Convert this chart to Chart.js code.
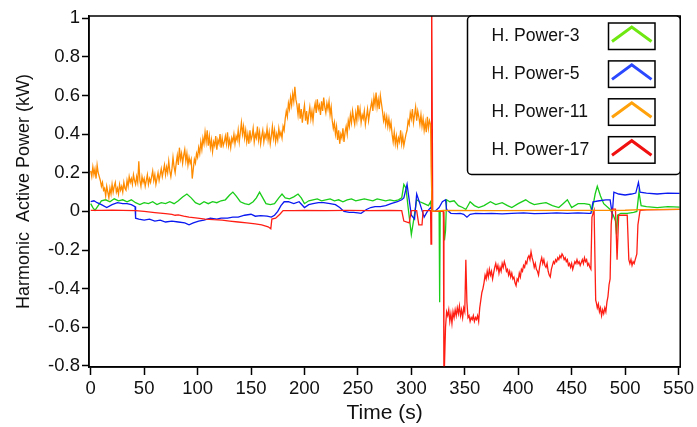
<!DOCTYPE html>
<html lang="en">
<head>
<meta charset="UTF-8">
<title>Harmonic Active Power</title>
<script src="https://cdn.jsdelivr.net/npm/chart.js@4.4.1/dist/chart.umd.min.js"></script>
<style>
  body { margin: 0; background: #fff; }
  #wrap { position: relative; width: 697px; height: 427px; }
</style>
</head>
<body>
<div id="wrap"><canvas id="chart"></canvas></div>
<script>
// axis ticks
const timeTicks = [0, 50, 100, 150, 200, 250, 300, 350, 400, 450, 500, 550];
const powerTicks = [-0.8, -0.6, -0.4, -0.2, 0, 0.2, 0.4, 0.6, 0.8, 1];

const seriesNames = ['H. Power-3', 'H. Power-5', 'H. Power-11', 'H. Power-17'];

// H. Power-3 (green)
const h3Time = [0, 2, 4, 7, 10, 14, 18, 22, 26, 30, 34, 38, 42, 46, 50, 54, 58, 62, 66, 70, 74, 78, 82, 86, 90, 94, 98,
  102, 106, 110, 114, 118, 122, 126, 130, 133, 136, 140, 144, 148, 152, 155, 158, 161, 164, 168, 172, 176, 179, 182, 186,
  190, 194, 197, 200, 204, 208, 212, 216, 220, 224, 228, 232, 236, 240, 244, 248, 252, 256, 260, 264, 268, 272, 276, 280,
  284, 288, 291, 293, 295, 297, 300, 302, 305, 308, 312, 316, 318, 319, 322, 326, 326.5, 327, 330, 331, 332, 333, 336,
  340, 344, 348, 351, 355, 359, 363, 368, 374, 379, 385, 390, 394, 400, 407, 411, 415, 420, 426, 432, 438, 442, 446, 450,
  456, 462, 467, 469, 472, 474, 477, 480, 484, 486, 489, 491, 492, 493, 496, 502, 508, 511, 513, 515, 520, 530, 540, 551];
const h3Power = [0.04, 0.02, 0.005, 0.03, 0.055, 0.06, 0.05, 0.065, 0.055, 0.06, 0.05, 0.06, 0.045, 0.035, 0.045, 0.04,
  0.05, 0.035, 0.045, 0.04, 0.05, 0.04, 0.055, 0.075, 0.09, 0.07, 0.045, 0.035, 0.05, 0.04, 0.05, 0.045, 0.055, 0.06,
  0.085, 0.10, 0.08, 0.05, 0.04, 0.035, 0.05, 0.07, 0.10, 0.07, 0.04, 0.035, 0.04, 0.07, 0.09, 0.07, 0.065, 0.075, 0.09,
  0.07, 0.04, 0.055, 0.06, 0.065, 0.055, 0.06, 0.065, 0.055, 0.06, 0.05, 0.06, 0.065, 0.055, 0.06, 0.065, 0.06, 0.055,
  0.065, 0.06, 0.055, 0.06, 0.055, 0.06, 0.07, 0.14, 0.12, 0.02, -0.12, -0.05, 0.06, 0.05, 0.04, 0.03, 0.05, 0.0, 0.0,
  0.0, -0.47, 0.0, 0.0, -0.15, -0.1, 0.06, 0.05, 0.055, 0.03, 0.02, 0.01, 0.05, 0.03, 0.02, 0.03, 0.05, 0.035, 0.045,
  0.03, 0.02, 0.04, 0.06, 0.045, 0.035, 0.04, 0.045, 0.03, 0.02, 0.04, 0.06, 0.02, 0.04, 0.04, 0.035, 0.0, 0.09, 0.13,
  0.08, 0.04, 0.02, 0.01, -0.02, -0.05, -0.12, -0.02, -0.01, -0.01, -0.005, 0.0, 0.1, 0.03, 0.025, 0.02, 0.025, 0.022];

// H. Power-5 (blue)
const h5Time = [0, 3, 6, 10, 15, 20, 25, 30, 34, 38, 41.5, 42, 45, 50, 55, 60, 65, 70, 76, 82, 88, 92, 96, 101, 106, 112,
  118, 122, 128, 133, 138, 144, 150, 154, 159, 165, 169, 172, 175, 178, 181, 185, 190, 195, 200, 204, 208, 213, 218, 224,
  229, 233, 237, 242, 246, 250, 253, 258, 262, 266, 271, 276, 281, 287, 291, 293, 296, 298, 300, 303, 305, 308, 312, 315,
  318, 320, 322, 326, 329, 332, 333, 337, 342, 346, 349, 352, 355, 360, 368, 375, 385, 394, 405, 415, 426, 436, 446, 456,
  466, 468, 470, 476, 482, 486, 488, 489.5, 494, 500, 506, 510, 512.5, 514, 520, 530, 540, 551];
const h5Power = [0.05, 0.055, 0.045, 0.035, 0.02, 0.035, 0.045, 0.04, 0.04, 0.035, 0.025, -0.035, -0.04, -0.045, -0.04,
  -0.05, -0.045, -0.055, -0.05, -0.055, -0.06, -0.07, -0.06, -0.05, -0.045, -0.035, -0.04, -0.035, -0.035, -0.03, -0.03,
  -0.02, -0.015, -0.025, -0.022, -0.025, -0.03, -0.02, 0.0, 0.03, 0.05, 0.05, 0.04, 0.05, 0.02, 0.035, 0.04, 0.045, 0.045,
  0.04, 0.035, 0.02, 0.0, -0.005, -0.005, -0.008, -0.01, 0.01, 0.02, 0.025, 0.025, 0.03, 0.04, 0.05, 0.06, 0.07, 0.14,
  0.06, -0.02, -0.04, 0.09, 0.04, -0.03, 0.0, 0.02, 0.0, 0.0, 0.02, 0.05, 0.06, 0.01, -0.01, -0.012, -0.01, -0.015, -0.03,
  -0.015, -0.01, -0.012, -0.01, -0.013, -0.01, -0.008, -0.012, -0.01, -0.008, -0.01, -0.008, -0.01, -0.01, 0.05, 0.055,
  0.06, 0.06, -0.015, 0.1, 0.09, 0.085, 0.09, 0.095, 0.15, 0.1, 0.095, 0.09, 0.095, 0.093];

// H. Power-11 (orange), one reading per second up to the spike, then the flat tail
const h11Time = [0, 1, 2, 3, 4, 5, 6, 7, 8, 9, 10, 11, 12, 13, 14, 15, 16, 17, 18, 19, 20, 21, 22, 23, 24, 25, 26, 27, 28,
  29, 30, 31, 32, 33, 34, 35, 36, 37, 38, 39, 40, 41, 42, 43, 44, 45, 46, 47, 48, 49, 50, 51, 52, 53, 54, 55, 56, 57, 58,
  59, 60, 61, 62, 63, 64, 65, 66, 67, 68, 69, 70, 71, 72, 73, 74, 75, 76, 77, 78, 79, 80, 81, 82, 83, 84, 85, 86, 87, 88,
  89, 90, 91, 92, 93, 94, 95, 96, 97, 98, 99, 100, 101, 102, 103, 104, 105, 106, 107, 108, 109, 110, 111, 112, 113, 114,
  115, 116, 117, 118, 119, 120, 121, 122, 123, 124, 125, 126, 127, 128, 129, 130, 131, 132, 133, 134, 135, 136, 137, 138,
  139, 140, 141, 142, 143, 144, 145, 146, 147, 148, 149, 150, 151, 152, 153, 154, 155, 156, 157, 158, 159, 160, 161, 162,
  163, 164, 165, 166, 167, 168, 169, 170, 171, 172, 173, 174, 175, 176, 177, 178, 179, 180, 181, 182, 183, 184, 185, 186,
  187, 188, 189, 190, 191, 192, 193, 194, 195, 196, 197, 198, 199, 200, 201, 202, 203, 204, 205, 206, 207, 208, 209, 210,
  211, 212, 213, 214, 215, 216, 217, 218, 219, 220, 221, 222, 223, 224, 225, 226, 227, 228, 229, 230, 231, 232, 233, 234,
  235, 236, 237, 238, 239, 240, 241, 242, 243, 244, 245, 246, 247, 248, 249, 250, 251, 252, 253, 254, 255, 256, 257, 258,
  259, 260, 261, 262, 263, 264, 265, 266, 267, 268, 269, 270, 271, 272, 273, 274, 275, 276, 277, 278, 279, 280, 281, 282,
  283, 284, 285, 286, 287, 288, 289, 290, 291, 292, 293, 294, 295, 296, 297, 298, 299, 300, 301, 302, 303, 304, 305, 306,
  307, 308, 309, 310, 311, 312, 313, 314, 315, 316, 317, 318, 318.5, 319.5, 330, 380, 440, 500, 515, 551];
const h11Power = [
  0.21, 0.18, 0.23, 0.19, 0.22, 0.17, 0.24, 0.20, 0.18,
  0.16, 0.13, 0.15, 0.11,
  0.12, 0.08, 0.13, 0.10, 0.07, 0.12,
  0.09, 0.14, 0.10, 0.13, 0.15, 0.10, 0.12, 0.09, 0.14, 0.11, 0.13, 0.10, 0.15, 0.12, 0.11,
  0.16, 0.13, 0.18, 0.15, 0.17, 0.14, 0.19, 0.16, 0.14, 0.18, 0.15,
  0.26,
  0.16, 0.13, 0.18, 0.15, 0.17, 0.13, 0.16, 0.19, 0.14, 0.17, 0.15, 0.18, 0.21, 0.16, 0.19, 0.14, 0.17, 0.20, 0.16,
  0.19, 0.22, 0.18, 0.21, 0.24, 0.19, 0.23, 0.20, 0.26, 0.21, 0.18, 0.22, 0.28, 0.23, 0.20, 0.25,
  0.29, 0.24, 0.33, 0.27, 0.30, 0.25, 0.29, 0.32, 0.26, 0.30, 0.24, 0.28, 0.25, 0.27,
  0.17,
  0.22, 0.27, 0.25, 0.30, 0.28, 0.33, 0.30, 0.36, 0.32,
  0.38, 0.35, 0.41, 0.36, 0.42, 0.34, 0.39, 0.33, 0.37,
  0.31, 0.36, 0.34, 0.39, 0.32, 0.37, 0.35, 0.40, 0.33, 0.38, 0.34, 0.36, 0.39, 0.35, 0.41, 0.34, 0.37, 0.33, 0.38, 0.36,
  0.40, 0.35, 0.39, 0.37, 0.42, 0.36,
  0.41, 0.46, 0.40, 0.44, 0.38, 0.42,
  0.36, 0.40, 0.35, 0.42, 0.37, 0.39, 0.43, 0.36, 0.40, 0.38, 0.44, 0.37, 0.41, 0.35, 0.39, 0.42, 0.36, 0.40, 0.38,
  0.43, 0.37, 0.41, 0.35, 0.39, 0.44, 0.38, 0.42, 0.36, 0.40, 0.37, 0.43, 0.39, 0.41, 0.38, 0.44, 0.42,
  0.48, 0.52, 0.49, 0.56, 0.53, 0.59, 0.55, 0.61, 0.57, 0.645, 0.58, 0.55,
  0.50, 0.56, 0.48, 0.53, 0.46, 0.51, 0.55, 0.47, 0.52, 0.45, 0.50, 0.54, 0.48, 0.52, 0.47, 0.53,
  0.56, 0.51, 0.58, 0.53, 0.55, 0.50, 0.57, 0.52, 0.59, 0.54, 0.51, 0.56, 0.53, 0.57, 0.50, 0.54,
  0.47, 0.43, 0.46, 0.40, 0.44, 0.37, 0.42, 0.35, 0.40, 0.38, 0.43, 0.36, 0.41, 0.44, 0.40,
  0.47, 0.44, 0.50, 0.46, 0.52, 0.48, 0.45, 0.51, 0.47, 0.55, 0.49, 0.53, 0.46, 0.50, 0.48, 0.52, 0.45, 0.49, 0.53, 0.47,
  0.51, 0.54,
  0.57, 0.52, 0.59, 0.55, 0.615, 0.54, 0.58, 0.53, 0.60, 0.56,
  0.52, 0.47, 0.50, 0.45, 0.49, 0.44, 0.48, 0.43, 0.46,
  0.40, 0.36, 0.41, 0.35, 0.39, 0.34, 0.38, 0.36, 0.42, 0.35, 0.39, 0.34, 0.37, 0.40, 0.42,
  0.47, 0.45, 0.51, 0.48, 0.53, 0.46, 0.50, 0.54, 0.47, 0.52, 0.49, 0.45, 0.50,
  0.44, 0.48, 0.42, 0.46, 0.41, 0.49, 0.43, 0.47, 0.45,
  0.23, 0.0, 0.005, 0.004, 0.005, 0.006, 0.009, 0.01];

// H. Power-17 (red)
const h17Time = [0, 10, 20, 30, 42, 50, 60, 70, 76, 79, 82, 87, 92, 100, 107, 115, 123, 130, 138, 146, 154, 160, 166,
  168.5, 169.5, 173, 177, 180, 190, 200, 220, 240, 260, 280, 291, 293, 298, 300, 305, 307, 310, 311, 318, 318.4, 319, 320,
  325, 330, 330.5, 332, 333,
  334, 335, 336, 337, 338, 339, 340, 341, 342, 343, 344, 345, 346, 347, 348, 349, 350, 351, 352, 353, 354, 355, 356, 357,
  358, 359, 360, 361, 362, 363, 364, 365, 366, 367, 368, 369, 370, 371, 372, 373, 374, 375, 376, 377, 378, 379, 380, 381,
  382, 383, 384, 385, 386, 387, 388, 389, 390, 391, 392, 393, 394, 395, 396, 397, 398, 399, 400, 401, 402, 403, 404, 405,
  406, 407, 408, 409, 410, 411, 412, 413, 414, 415, 416, 417, 418, 419, 420, 421, 422, 423, 424, 425, 426, 427, 428, 429,
  430, 431, 432, 433, 434, 435, 436, 437, 438, 439, 440, 441, 442, 443, 444, 445, 446, 447, 448, 449, 450, 451, 452, 453,
  454, 455, 456, 457, 458, 459, 460, 461, 462, 463, 464, 465, 466, 467, 468,
  469, 471, 472.5, 473, 474, 475, 476, 477, 478, 479, 480, 481, 482, 483, 484, 484.5, 485, 486, 487, 488, 491, 492.5, 494,
  497, 502, 503.5, 504.5, 505.5, 506.5, 507.5, 508.5, 509.5, 511, 512, 514, 520, 535, 551];
const h17Power = [0.005, 0.005, 0.006, 0.005, 0.004, 0.0, -0.006, -0.012, -0.015, -0.02, -0.018, -0.025, -0.03, -0.035,
  -0.04, -0.043, -0.045, -0.05, -0.055, -0.06, -0.065, -0.07, -0.08, -0.09, -0.04, -0.035, -0.015, 0.004, 0.004, 0.005,
  0.004, 0.005, 0.004, 0.005, 0.004, -0.05, -0.06, 0.004, 0.004, -0.07, -0.07, 0.004, 0.004, -0.17, 1.2, 0.0, 0.0, 0.0,
  -0.9, -0.6, -0.52,
  -0.54, -0.51, -0.57, -0.53, -0.58, -0.52, -0.55, -0.51, -0.54, -0.50,
  -0.53, -0.49, -0.54, -0.51, -0.55, -0.50, -0.52, -0.25, -0.47, -0.55,
  -0.54, -0.57, -0.55, -0.56, -0.54, -0.57, -0.55, -0.56, -0.54, -0.57,
  -0.50, -0.46, -0.42, -0.40, -0.37, -0.33, -0.35, -0.31, -0.34, -0.30,
  -0.33, -0.31, -0.35, -0.32, -0.29, -0.27, -0.30, -0.28, -0.32, -0.29,
  -0.31, -0.27, -0.29, -0.26, -0.28, -0.31, -0.30, -0.33, -0.31, -0.34,
  -0.32, -0.35, -0.34, -0.37, -0.385, -0.35, -0.36, -0.32, -0.34, -0.30,
  -0.31, -0.28, -0.29, -0.26, -0.27, -0.24, -0.23, -0.25, -0.21, -0.24,
  -0.26, -0.29, -0.27, -0.30, -0.31, -0.33, -0.29, -0.26, -0.24, -0.27,
  -0.25, -0.28, -0.29, -0.27, -0.31, -0.33, -0.34, -0.30, -0.28, -0.26,
  -0.27, -0.25, -0.26, -0.24, -0.25, -0.23, -0.24, -0.22, -0.23, -0.25,
  -0.24, -0.26, -0.25, -0.28, -0.27, -0.29, -0.27, -0.30, -0.28, -0.26,
  -0.27, -0.25, -0.27, -0.26, -0.28, -0.265, -0.25, -0.27, -0.24, -0.26,
  -0.25, -0.28, -0.27, -0.29, -0.30,
  -0.03, 0.005, -0.46, -0.47, -0.50, -0.48, -0.52, -0.50, -0.54, -0.51, -0.53, -0.50, -0.52, -0.47, -0.44, -0.41, -0.38,
  -0.35, -0.07, 0.012, 0.012, -0.25, -0.02, -0.02, -0.02, -0.25, -0.27, -0.25, -0.28, -0.26, -0.27, -0.25, -0.22, -0.07,
  0.005, 0.008, 0.009, 0.01];

const lineColors = ['rgb(25,205,25)', 'rgb(10,25,240)', 'rgb(255,140,0)', 'rgb(255,30,20)'];
const legendColors = ['#6ee810', '#2a48ff', '#ffa10a', '#f01010'];

const FAMILY = '"Liberation Sans", Arial, sans-serif';

function toPoints(times, values) {
  return times.map((t, i) => ({ x: t, y: values[i] }));
}

// [time, power, draw order] - lower order is painted on top
const series = [
  [h3Time, h3Power, 4],
  [h5Time, h5Power, 3],
  [h11Time, h11Power, 1],
  [h17Time, h17Power, 2]
];

const frame = {
  id: 'frame',
  afterDatasetsDraw(chart) {
    const { ctx, chartArea: a } = chart;
    ctx.save();
    ctx.strokeStyle = '#000';
    ctx.lineWidth = 1.5;
    ctx.strokeRect(a.left, a.top, a.right - a.left, a.bottom - a.top);
    ctx.restore();
  }
};

const boxLegend = {
  id: 'boxLegend',
  afterDraw(chart) {
    const ctx = chart.ctx;
    const a = chart.chartArea;
    const x = 467.5, y = a.top, w = a.right - 467.5, h = 158.5;
    ctx.save();
    ctx.fillStyle = '#fff';
    ctx.strokeStyle = '#000';
    ctx.lineWidth = 1.5;
    ctx.beginPath();
    ctx.roundRect(x, y, w, h, 4);
    ctx.fill();
    ctx.stroke();

    ctx.font = '17.6px ' + FAMILY;
    ctx.textBaseline = 'middle';
    ctx.textAlign = 'left';
    seriesNames.forEach((name, i) => {
      const cy = y + 20 + 37.9 * i;
      ctx.fillStyle = '#111';
      ctx.fillText(name, 491.5, cy);

      const bx = 608.5, by = cy - 13, bw = 46.5, bh = 26.5;
      ctx.strokeStyle = '#000';
      ctx.lineWidth = 1.5;
      ctx.strokeRect(bx, by, bw, bh);

      ctx.strokeStyle = legendColors[i];
      ctx.lineWidth = 3;
      ctx.beginPath();
      ctx.moveTo(bx + 3.5, by + 18.5);
      ctx.lineTo(bx + bw / 2, by + 4);
      ctx.lineTo(bx + bw - 3.5, by + 18.5);
      ctx.stroke();
    });
    ctx.restore();
  }
};

new Chart(document.getElementById('chart'), {
  type: 'line',
  data: {
    datasets: series.map(([t, v, ord], i) => ({
      label: seriesNames[i],
      data: toPoints(t, v),
      borderColor: lineColors[i],
      backgroundColor: lineColors[i],
      borderWidth: 1.3,
      pointRadius: 0,
      tension: 0,
      fill: false,
      order: ord
    }))
  },
  options: {
    responsive: true,
    maintainAspectRatio: false,
    animation: false,
    layout: { padding: { left: 0, top: 16, right: 15, bottom: 0 } },
    plugins: { legend: { display: false }, tooltip: { enabled: false } },
    scales: {
      x: {
        type: 'linear',
        min: -1.6,
        max: 551.6,
        afterBuildTicks: s => { s.ticks = timeTicks.map(v => ({ value: v })); },
        afterFit: s => { s.height = 60; },
        grid: { drawOnChartArea: false, drawTicks: true, tickLength: 8, tickColor: '#000', tickWidth: 1.5 },
        border: { display: true, color: '#000', width: 1.5 },
        ticks: {
          color: '#111', padding: 3, maxRotation: 0, autoSkip: false,
          font: { family: FAMILY, size: 18.5 },
          callback: v => String(v)
        },
        title: {
          display: true, text: 'Time (s)', color: '#111',
          padding: { top: 0, bottom: 1 },
          font: { family: FAMILY, size: 21 }
        }
      },
      y: {
        min: -0.806,
        max: 1.012,
        afterBuildTicks: s => { s.ticks = powerTicks.map(v => ({ value: v })); },
        afterFit: s => { s.width = 89; },
        grid: { drawOnChartArea: false, drawTicks: true, tickLength: 7, tickColor: '#000', tickWidth: 1.5 },
        border: { display: true, color: '#000', width: 1.5 },
        ticks: {
          color: '#111', padding: 2, autoSkip: false,
          font: { family: FAMILY, size: 18.5 },
          callback: v => String(+v.toFixed(1))
        },
        title: {
          display: true, text: 'Harmonic  Active Power (kW)', color: '#111',
          padding: { top: 13, bottom: 0 },
          font: { family: FAMILY, size: 18 }
        }
      }
    }
  },
  plugins: [frame, boxLegend]
});
</script>
</body>
</html>
